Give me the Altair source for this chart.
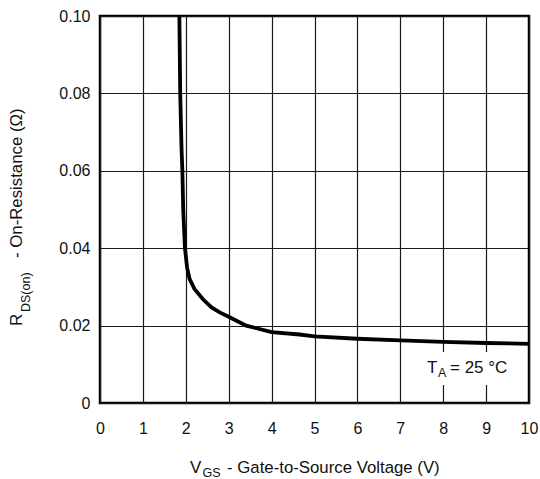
import altair as alt
import pandas as pd

# Curve: V_GS (V) vs R_DS(on) (ohm)
vgs = [1.85, 1.87, 1.90, 1.92, 1.94, 1.98, 2.03, 2.09, 2.20, 2.40, 2.60, 2.79,
       3.00, 3.41, 4.00, 4.65, 5.00, 6.00, 7.00, 8.00, 9.00, 10.00]
rds = [0.100, 0.080, 0.066, 0.060, 0.050, 0.040, 0.035, 0.032, 0.0295, 0.0268,
       0.0247, 0.0234, 0.0223, 0.0200, 0.0183, 0.0177, 0.0172, 0.0166, 0.0162,
       0.0158, 0.0155, 0.0153]
x_ticks = [0, 1, 2, 3, 4, 5, 6, 7, 8, 9, 10]
y_ticks = [0, 0.02, 0.04, 0.06, 0.08, 0.10]

df = pd.DataFrame({"vgs": vgs, "rds": rds})

FONT = "Liberation Sans"
W, H = 429, 387

xscale = alt.Scale(domain=[0, 10], nice=False, zero=False)
yscale = alt.Scale(domain=[0, 0.1], nice=False)

line = alt.Chart(df).mark_line(color="black", strokeWidth=3.8, clip=True).encode(
    x=alt.X("vgs:Q", scale=xscale, title=None,
            axis=alt.Axis(values=x_ticks, labelPadding=17, format="d",
                          labelFlush=False)),
    y=alt.Y("rds:Q", scale=yscale, title=None,
            axis=alt.Axis(values=y_ticks, labelPadding=10, labelFlush=False,
                          labelExpr="datum.value == 0 ? '0' : format(datum.value, '.2f')")),
)

one = alt.Data(values=[{}])

def txt(text, x, y, size=17, angle=0):
    return alt.Chart(one).mark_text(
        text=text, font=FONT, fontSize=size, color="#111", align="left",
        baseline="alphabetic", angle=angle
    ).encode(x=alt.value(x), y=alt.value(y))

# white box behind annotation
box = alt.Chart(one).mark_rect(color="white").encode(
    x=alt.value(310), x2=alt.value(420), y=alt.value(336), y2=alt.value(369)
)

layers = [
    line,
    box,
    txt("T", 327, 357),
    txt("A", 338, 361, size=12.5),
    txt("= 25 °C", 350, 357),
    # x-axis title
    txt("V", 90, 457),
    txt("GS", 102.5, 460.5, size=12.5),
    txt("- Gate-to-Source Voltage (V)", 127, 457, size=16.8),
    # y-axis title (rotated)
    txt("R", -78, 310, angle=270),
    txt("DS(on)", -70.5, 296, size=12.5, angle=270),
    txt("- On-Resistance (Ω)", -78, 242, size=16.8, angle=270),
]

chart = alt.layer(*layers).properties(
    width=W, height=H,
    autosize=alt.AutoSizeParams(type="none"),
    padding={"left": 100, "top": 16, "right": 11, "bottom": 76},
    background="white",
).configure_view(
    stroke="black", strokeWidth=2.5
).configure_axis(
    domain=False, ticks=False, grid=True, gridColor="#1a1a1a", gridWidth=1.2,
    gridOpacity=1, labelFont=FONT, labelFontSize=16, labelColor="#111",
)

chart.save("out.html", embed_options={"renderer": "svg", "actions": False})
